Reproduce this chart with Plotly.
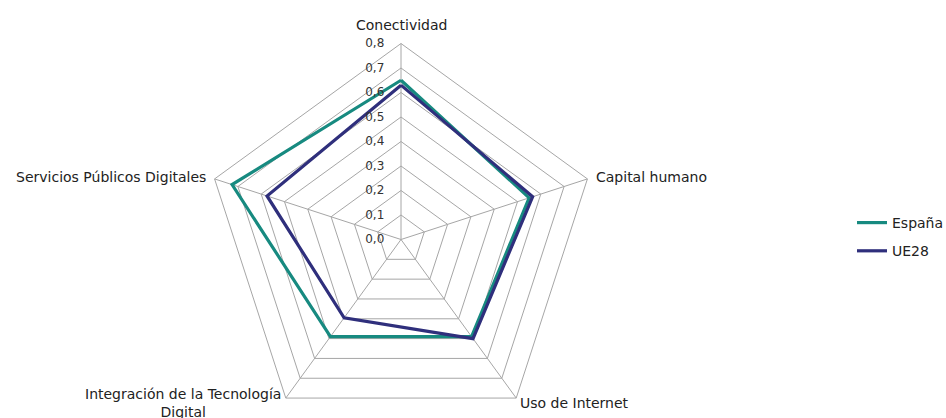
import math
import plotly.graph_objects as go

categories = ["Conectividad", "Capital humano", "Uso de Internet",
              "Integración de la Tecnología<br>Digital", "Servicios Públicos Digitales"]
espana = [0.65, 0.55, 0.49, 0.49, 0.725]
ue28 = [0.63, 0.565, 0.50, 0.395, 0.575]
radial_ticks = [0.0, 0.1, 0.2, 0.3, 0.4, 0.5, 0.6, 0.7, 0.8]

W, H = 946, 460
cx, cy, R = 401, 239.5, 196
FONT = "DejaVu Sans"

fig = go.Figure()
fig.add_trace(go.Scatterpolar(
    r=espana + espana[:1], theta=categories + categories[:1],
    mode="lines", name="España", legendgroup="a",
    line=dict(color="#178a80", width=3.2)))
fig.add_trace(go.Scatterpolar(
    r=ue28 + ue28[:1], theta=categories + categories[:1],
    mode="lines", name="UE28", legendgroup="b",
    line=dict(color="#2f2f7c", width=3.2)))

# category labels placed just outside the outer polygon vertices
annotations = []
n = len(categories)
for i, lab in enumerate(categories):
    a = math.radians(90 - 360 * i / n)
    vx = cx + R * math.cos(a)
    vy = cy - R * math.sin(a)
    c, s = math.cos(a), math.sin(a)
    if abs(c) < 0.1:
        xanchor, dx = "center", 0
    elif c > 0:
        xanchor, dx = "left", 7 if s > -0.5 else 2
    else:
        xanchor, dx = "right", -7 if s > -0.5 else -3
    if s > 0.9:
        dy = -18
    elif s > -0.5:
        dy = -2
    else:
        dy = 5
    annotations.append(dict(
        text=lab, x=(vx + dx) / W, y=1 - (vy + dy) / H, xref="paper", yref="paper",
        xanchor=xanchor, yanchor="middle", align="center", showarrow=False,
        font=dict(family=FONT, size=14, color="#222222")))

fig.update_layout(
    width=W, height=H, autosize=False,
    margin=dict(l=0, r=0, t=0, b=0, autoexpand=False),
    paper_bgcolor="white", plot_bgcolor="white",
    separators=",.",
    font=dict(family=FONT, size=12, color="#222222"),
    annotations=annotations,
    polar=dict(
        domain=dict(x=[(cx - R) / W, (cx + R) / W],
                    y=[(H - cy - R) / H, (H - cy + R) / H]),
        gridshape="linear",
        bgcolor="white",
        angularaxis=dict(direction="clockwise", rotation=90,
                         showline=True, linecolor="#a6a6a6", linewidth=1,
                         gridcolor="#a6a6a6", gridwidth=1, ticks="",
                         showticklabels=False),
        radialaxis=dict(range=[0, 0.8], tickvals=radial_ticks, tickformat=".1f",
                        angle=90, tickangle=90, side="counterclockwise",
                        showline=False, ticks="outside", ticklen=12,
                        tickcolor="rgba(0,0,0,0)",
                        gridcolor="#a6a6a6", gridwidth=1,
                        tickfont=dict(family=FONT, size=12, color="#333333")),
    ),
    legend=dict(x=852 / W, y=1 - 207 / H, xanchor="left", yanchor="top",
                traceorder="grouped", tracegroupgap=7,
                font=dict(family=FONT, size=14, color="#222222")),
    showlegend=True,
)

fig.write_html("out.html", post_script=(
    "document.body.style.margin='0';"
    "document.body.style.overflow='hidden';"
    "document.documentElement.style.overflow='hidden';"))
